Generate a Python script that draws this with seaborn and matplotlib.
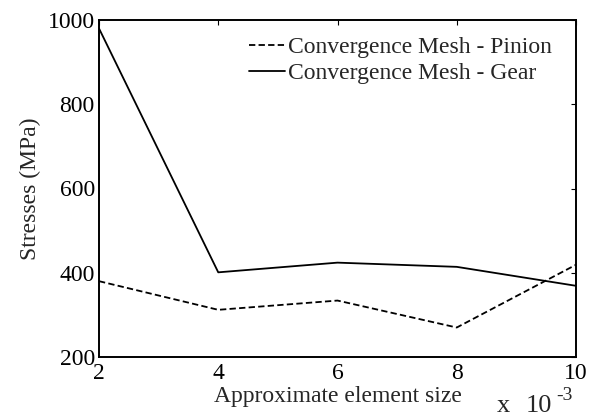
import pandas as pd
import matplotlib
matplotlib.use("Agg")
import matplotlib.pyplot as plt
import seaborn as sns

# --- data ---
element_size = [2, 4, 6, 8, 10]           # x 10^-3
pinion_stress = [380, 312, 334, 270, 419]  # MPa
gear_stress = [980, 401, 424, 414, 369]    # MPa
series_names = ["Convergence Mesh - Pinion", "Convergence Mesh - Gear"]

df = pd.concat([
    pd.DataFrame({"size": element_size, "stress": pinion_stress, "serie": series_names[0]}),
    pd.DataFrame({"size": element_size, "stress": gear_stress, "serie": series_names[1]}),
])

sns.set_theme(style="white")
plt.rcParams["font.family"] = ["Liberation Serif", "DejaVu Serif"]
plt.rcParams["font.size"] = 17

fig = plt.figure(figsize=(5.94, 4.16), dpi=100)
ax = fig.add_axes([99 / 594, 1 - 357 / 416, 477 / 594, 337 / 416])

sns.lineplot(
    data=df, x="size", y="stress",
    hue="serie", style="serie",
    hue_order=series_names, style_order=series_names,
    palette=["black", "black"],
    dashes={series_names[0]: (3.5, 1.8), series_names[1]: ""},
    linewidth=1.3, ax=ax,
)

ax.set_xlim(2, 10)
ax.set_ylim(200, 1000)
ax.set_xticks(element_size)
ax.set_yticks([200, 400, 600, 800, 1000])
ax.tick_params(direction="in", length=3.5, width=0.8, top=True, right=True,
               labelsize=17, colors="black")
ax.tick_params(axis="x", pad=4)
ax.tick_params(axis="y", pad=3)
for s in ax.spines.values():
    s.set_color("black")
    s.set_linewidth(1.4)

ax.set_xlabel("Approximate element size", fontsize=17, labelpad=2)
ax.set_ylabel("Stresses (MPa)", fontsize=17, labelpad=5)

# exponent label, MATLAB style
fig.text(497 / 594, 4 / 416, "x", fontsize=19, ha="left", va="baseline")
fig.text(526 / 594, 4 / 416, "10", fontsize=19, ha="left", va="baseline")
fig.text(556 / 594, 16 / 416, "-3", fontsize=14, ha="left", va="baseline")

ax.legend(loc="upper right", frameon=False, fontsize=17,
          handlelength=1.5, handletextpad=0.15, labelspacing=0.2,
          borderaxespad=0.3, bbox_to_anchor=(0.985, 1.0))

fig.savefig("out.png", dpi=100)
